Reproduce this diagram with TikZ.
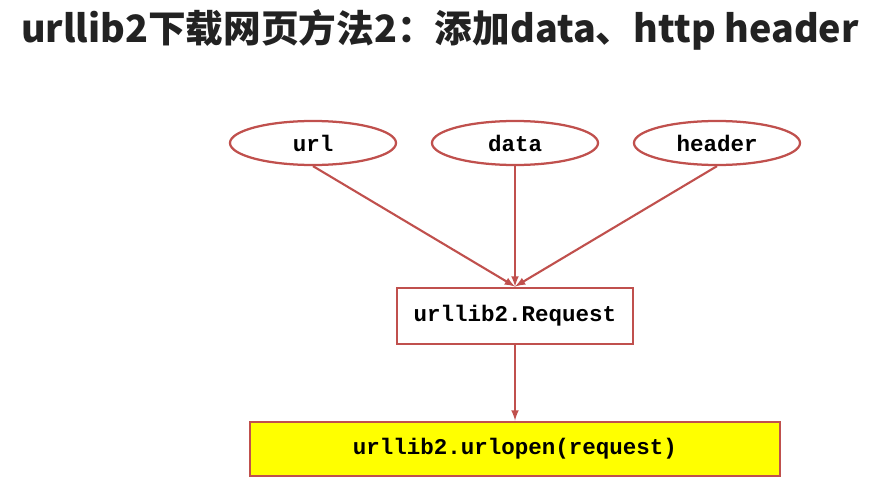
\documentclass[tikz,border=0pt]{standalone}
\usepackage{fontspec}
\setmonofont{Liberation Mono}
\newfontfamily\cjk{Noto Sans CJK SC}
\usepackage{xcolor}
\usetikzlibrary{arrows}
\usetikzlibrary{shapes.geometric}
\definecolor{myred}{RGB}{192, 80, 77}
\definecolor{myyellow}{RGB}{255, 255, 0}
\definecolor{mytext}{RGB}{34, 34, 34}

\begin{document}
\begin{tikzpicture}[x=0.025cm, y=-0.025cm,
  input/.style={ellipse, draw=myred, line width=1.6pt, fill=white,
    minimum width=4.15cm, minimum height=1.1cm, inner sep=0pt,
    font=\ttfamily\bfseries\fontsize{16}{16}\selectfont},
  reqbox/.style={rectangle, draw=myred, line width=1.5pt, fill=white,
    minimum width=5.9cm, minimum height=1.42cm, inner sep=0pt,
    font=\ttfamily\bfseries\fontsize{16}{16}\selectfont},
  openbox/.style={reqbox, fill=myyellow, minimum width=13.25cm, minimum height=1.37cm},
  link/.style={-latex, draw=myred, line width=1.5pt}]
\useasboundingbox (0,0) rectangle (881,499);

 %title
 \node[font=\cjk\bfseries\fontsize{26.8}{27}\selectfont, text=mytext] (title) at (440,30)
   {urllib2下载网页方法2：添加data、http header};

 %inputs
 \node[input] (url) at (313,143) {url};
 \node[input] (data) at (515,143) {data};
 \node[input] (header) at (717,143) {header};

 %request
 \node[reqbox] (req) at (515,316) {urllib2.Request};
 \node[openbox] (open) at (515,449) {urllib2.urlopen(request)};

 \draw[link] (url.south) -- (req.north);
 \draw[link] (data.south) -- (req.north);
 \draw[link] (header.south) -- (req.north);
 \draw[link] (req.south) -- (open.north);
\end{tikzpicture}
\end{document}
